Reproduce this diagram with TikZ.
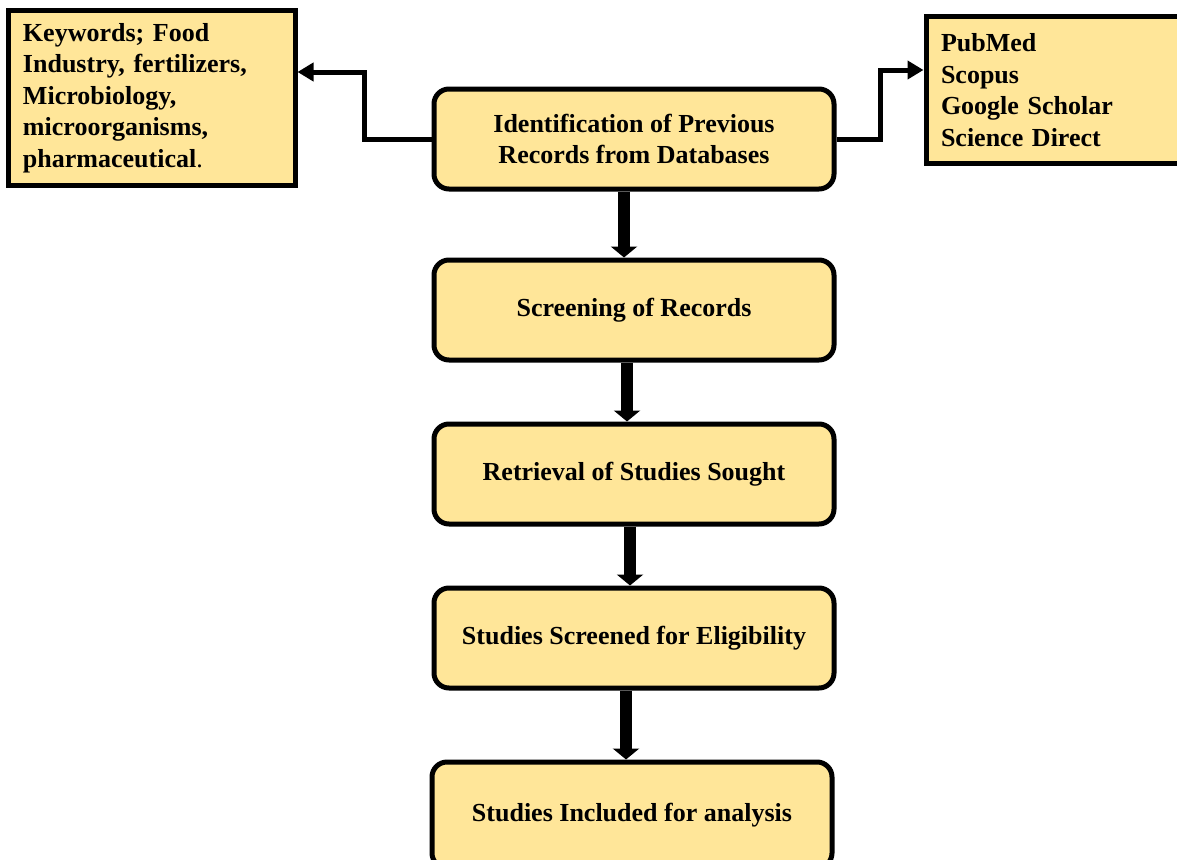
\documentclass[tikz,border=0pt]{standalone}
\usepackage{fontspec}
\setmainfont{Liberation Serif}
\usetikzlibrary{arrows.meta}
\definecolor{boxfill}{RGB}{255,230,153}
\begin{document}
\begin{tikzpicture}[x=1pt,y=-1pt,
  every node/.style={font=\fontsize{26}{31.5}\selectfont\bfseries},
  stage/.style={draw, line width=5pt, fill=boxfill, rounded corners=15pt,
    minimum width=400pt, minimum height=100pt, align=center, inner sep=0pt},
  listbox/.style={draw, line width=5pt, fill=boxfill, align=left,
    inner xsep=15pt, inner ysep=0pt},
  flow/.style={line width=12pt, -{Triangle[width=26pt,length=11pt]}},
  elbow/.style={line width=5pt, -{Triangle[width=18pt,length=16pt]}},
]
\clip (0,0) rectangle (1177,859);

% main chain of stages
\node[stage] (b1) at (634,139) {Identification of Previous\\Records from Databases};
\node[stage] (b2) at (634,310) {Screening of Records};
\node[stage] (b3) at (634,474) {Retrieval of Studies Sought};
\node[stage] (b4) at (634,638) {Studies Screened for Eligibility};
\node[stage, minimum height=106pt] (b5) at (632,815) {\raisebox{4pt}{Studies Included for analysis}};

% side boxes
\node[listbox, text width=257pt, minimum height=174pt] (kw) at (151.5,98)
  {Keywords; Food\\Industry, fertilizers,\\Microbiology,\\microorganisms,\\pharmaceutical{\mdseries.}};
\node[listbox, text width=234pt, minimum height=146pt] (db) at (1058,90)
  {PubMed\\Scopus\\Google Scholar\\Science Direct};

% vertical flow arrows
\draw[flow] ([xshift=-10pt]b1.south) -- ([xshift=-10pt]b2.north);
\draw[flow] ([xshift=-7pt]b2.south) -- ([xshift=-7pt]b3.north);
\draw[flow] ([xshift=-4pt]b3.south) -- ([xshift=-4pt]b4.north);
\draw[flow] ([xshift=-8pt]b4.south) -- ([xshift=-6pt]b5.north);

% elbow connectors to the side boxes
\draw[elbow] (b1.west) -- ++(-67,0) |- ([yshift=26pt]kw.east);
\draw[elbow] (b1.east) -- ++(44,0) |- ([yshift=20pt]db.west);
\end{tikzpicture}
\end{document}
